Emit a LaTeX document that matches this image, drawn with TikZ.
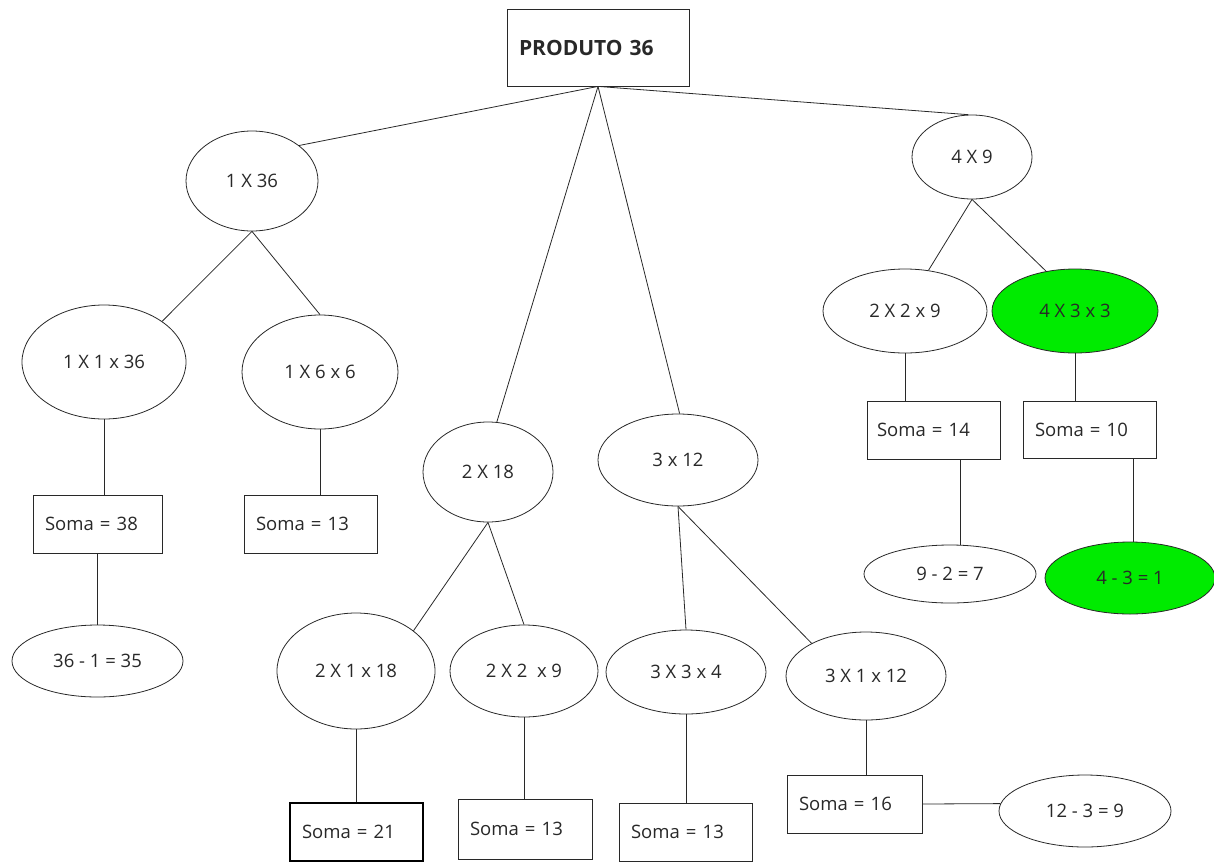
\documentclass[tikz,border=0pt]{standalone}
\usepackage{fontspec}
\setmainfont{Open Sans}
\usetikzlibrary{shapes.geometric,calc}
\definecolor{lime}{RGB}{0,235,0}
\definecolor{ink}{RGB}{40,40,40}
\begin{document}
\begin{tikzpicture}[x=1pt,y=-1pt,
  every node/.style={font=\fontsize{18.5}{20}\selectfont, text=ink},
  conn/.style={draw=ink, line width=0.8pt},
  sbox/.style={draw=ink, line width=0.8pt, rectangle, inner xsep=12pt, inner ysep=0pt,
     text width=#1-24pt, minimum height=58pt, align=left},
  ell/.style n args={2}{draw=ink, line width=0.8pt, ellipse, inner sep=0pt,
     minimum width=#1, minimum height=#2},
  green/.style={fill=lime}
]
\useasboundingbox (0,0) rectangle (1214,862);

% top
\node[draw=ink, line width=0.8pt, rectangle, inner xsep=12pt, inner ysep=0pt,
      text width=158pt, minimum height=77pt, align=left,
      font=\fontsize{21}{24}\selectfont\bfseries] (top) at (598,47.5) {PRODUTO 36};

% first level
\node[ell={132pt}{100pt}] (e136) at (252,181) {1 X 36\hspace{16pt}};
\node[ell={130pt}{100pt}] (e218) at (488,472) {2 X 18\hspace{12pt}};
\node[ell={160pt}{92pt}]  (e312) at (678,460) {3 x 12\hspace{36pt}};
\node[ell={120pt}{84pt}]  (e49)  at (972,157) {4 X 9\hspace{16pt}};

% second level
\node[ell={164pt}{114pt}] (e1136) at (104,362) {1 X 1 x 36\hspace{6pt}};
\node[ell={156pt}{114pt}] (e166)  at (320,372) {1 X 6 x 6\hspace{12pt}};
\node[ell={158pt}{116pt}] (e2118) at (356,671) {2 X 1 x 18};
\node[ell={148pt}{92pt}]  (e229m) at (524,671) {2 X 2\ \ x 9};
\node[ell={160pt}{84pt}]  (e334)  at (686,672) {3 X 3 x 4\hspace{12pt}};
\node[ell={160pt}{88pt}]  (e3112) at (866,676) {3 X 1 x 12};
\node[ell={164pt}{84pt}]  (e229r) at (905,311) {2 X 2 x 9\hspace{16pt}};
\node[ell={166pt}{84pt}, green] (e433) at (1075,311) {4 X 3 x 3\hspace{18pt}};

% sums
\node[sbox=129pt] (s38)  at (97.5,524)  {Soma = 38};
\node[sbox=133pt] (s13a) at (310.5,524) {Soma = 13};
\node[sbox=133pt, draw=black, line width=1.4pt] (s21) at (356.5,832) {Soma = 21};
\node[sbox=134pt, minimum height=60pt] (s13b) at (525,829) {Soma = 13};
\node[sbox=133pt] (s13c) at (685.5,832) {Soma = 13};
\node[sbox=135pt] (s16)  at (854.5,804) {Soma = 16};
\node[sbox=133pt, inner xsep=10pt, text width=113pt] (s14) at (933.5,430) {Soma = 14};
\node[sbox=133pt, minimum height=57pt] (s10) at (1089.5,429.5) {Soma = 10};

% results
\node[ell={171pt}{72pt}] (e35)   at (97.5,661) {36 - 1 = 35\hspace{4pt}};
\node[ell={172pt}{58pt}] (e927)  at (950,574)  {9 - 2 = 7\hspace{28pt}};
\node[ell={170pt}{72pt}, green] (e431) at (1130,578) {4 - 3 = 1\hspace{30pt}};
\node[ell={172pt}{72pt}] (e1239) at (1085,811) {12 - 3 = 9\hspace{16pt}};

% connectors
\draw[conn] (top.south) -- (e136.37);
\draw[conn] (top.south) -- (e218.80);
\draw[conn] (top.south) -- (e312.88);
\draw[conn] (top.south) -- (e49.95);

\draw[conn] (e136.south) -- (e1136.35);
\draw[conn] (e136.south) -- (e166.north);
\draw[conn] (e1136.south) -- (e1136.south |- s38.north);
\draw[conn] (s38.south) -- (e35.north);
\draw[conn] (e166.south) -- (e166.south |- s13a.north);

\draw[conn] (e218.south) -- (e2118.35);
\draw[conn] (e218.south) -- (e229m.north);
\draw[conn] (e2118.south) -- (e2118.south |- s21.north);
\draw[conn] (e229m.south) -- (e229m.south |- s13b.north);

\draw[conn] (e312.south) -- (e334.north);
\draw[conn] (e312.south) -- (e3112.149);
\draw[conn] (e334.south) -- (e334.south |- s13c.north);
\draw[conn] (e3112.south) -- (e3112.south |- s16.north);
\draw[conn] (s16.east) -- (e1239.175);

\draw[conn] (e49.south) -- (e229r.60);
\draw[conn] (e49.south) -- (e433.126);
\draw[conn] (e229r.south) -- (e229r.south |- s14.north);
\draw[conn] (e433.south) -- (e433.south |- s10.north);
\coordinate (s14b) at ($(s14.south west)!0.7!(s14.south east)$);
\coordinate (s10b) at ($(s10.south west)!0.83!(s10.south east)$);
\draw[conn] (s14b) -- (s14b |- e927.north);
\draw[conn] (s10b) -- (s10b |- e431.north);
\end{tikzpicture}
\end{document}
